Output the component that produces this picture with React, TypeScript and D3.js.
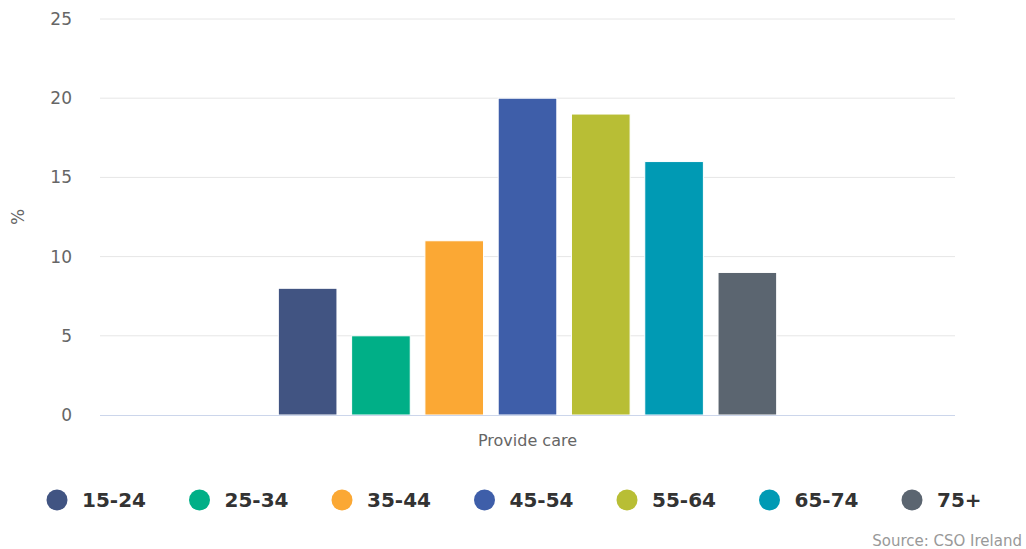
import React from "react";
import * as d3 from "d3";

const categories = ["Provide care"];
const seriesNames = ["15-24", "25-34", "35-44", "45-54", "55-64", "65-74", "75+"];
const seriesValues = [8, 5, 11, 20, 19, 16, 9];
const seriesColors = ["#415482", "#00af87", "#fba834", "#3e5ea9", "#b8be35", "#009ab4", "#5b6570"];
const yTicks = [0, 5, 10, 15, 20, 25];
const yLabel = "%";
const sourceText = "Source: CSO Ireland";

const W = 1026;
const H = 549;
const font = "'DejaVu Sans', sans-serif";

export default function App() {
  const left = 100, right = 955, top = 19, bottom = 415;
  const x0 = d3.scaleBand().domain(categories).range([left, right]).paddingInner(0).paddingOuter(0);
  const groupPad = 0.2 * x0.bandwidth();
  const x1 = d3
    .scaleBand()
    .domain(seriesNames)
    .range([0, x0.bandwidth() - 2 * groupPad])
    .paddingInner(0.2)
    .paddingOuter(0.1);
  const y = d3.scaleLinear().domain([0, 25]).range([bottom, top]);

  const legendX = d3.scalePoint().domain(seriesNames).range([57, 912]);

  return (
    <svg width={W} height={H} style={{ position: "absolute", left: 0, top: 0, background: "#fff" }}>
      {yTicks.map((t) => (
        <g key={t}>
          {t !== 0 && (
            <line x1={left} x2={right} y1={y(t)} y2={y(t)} stroke="#e6e6e6" strokeWidth={1} />
          )}
          <text x={72} y={y(t) + 6} textAnchor="end" fontFamily={font} fontSize={17} fill="#666">
            {t}
          </text>
        </g>
      ))}
      <text
        transform={`translate(24, ${(top + bottom) / 2}) rotate(-90)`}
        textAnchor="middle"
        fontFamily={font}
        fontSize={17}
        fill="#666"
      >
        {yLabel}
      </text>
      {categories.map((c) => (
        <g key={c}>
          {seriesNames.map((s, i) => {
            const bx = (x0(c) as number) + groupPad + (x1(s) as number);
            const v = seriesValues[i];
            return (
              <rect
                key={s}
                x={bx}
                y={y(v)}
                width={x1.bandwidth()}
                height={bottom - y(v)}
                fill={seriesColors[i]}
                stroke="#fff"
                strokeWidth={1}
              />
            );
          })}
          <text
            x={(x0(c) as number) + x0.bandwidth() / 2}
            y={446}
            textAnchor="middle"
            fontFamily={font}
            fontSize={16}
            fill="#666"
          >
            {c}
          </text>
        </g>
      ))}
      <line x1={left} x2={right} y1={bottom + 0.5} y2={bottom + 0.5} stroke="#ccd6eb" strokeWidth={1} />
      {seriesNames.map((s, i) => (
        <g key={s}>
          <circle cx={legendX(s)} cy={500} r={10.5} fill={seriesColors[i]} />
          <text
            x={(legendX(s) as number) + 25}
            y={507}
            fontFamily={font}
            fontSize={20}
            fontWeight="bold"
            fill="#333"
          >
            {s}
          </text>
        </g>
      ))}
      <text x={1022} y={546} textAnchor="end" fontFamily={font} fontSize={15} fill="#999">
        {sourceText}
      </text>
    </svg>
  );
}
